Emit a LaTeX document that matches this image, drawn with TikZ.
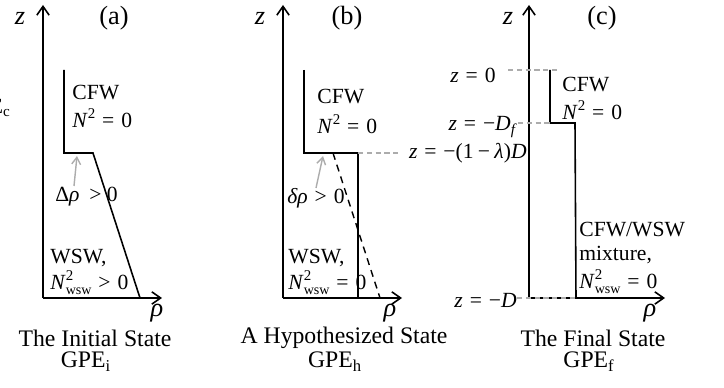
\documentclass[tikz,border=0pt]{standalone}
\usepackage{fontspec}
\setmainfont{Liberation Serif}
\usetikzlibrary{arrows.meta}
\newcommand{\mysp}{\hspace{0.32em}}
\newcommand{\Nsq}{\textit{N}\raisebox{0.85ex}{\fontsize{8.5}{9}\selectfont 2}}
\newcommand{\Nwsw}{\textit{N}\rlap{\raisebox{0.85ex}{\fontsize{8.5}{9}\selectfont 2}}\raisebox{-0.55ex}{\fontsize{8}{9}\selectfont wsw}}
\begin{document}
\begin{tikzpicture}[x=0.02cm,y=-0.02cm,
  axis/.style={line width=0.9pt,-{Straight Barb[length=5pt,width=7pt]}},
  prof/.style={line width=0.9pt},
  guide/.style={gray!65,line width=0.8pt,dash pattern=on 3pt off 2pt},
  hypo/.style={black,line width=0.8pt,dash pattern=on 4pt off 3pt},
  pointer/.style={gray!65,line width=0.8pt,-{Straight Barb[length=4pt,width=5pt]}},
  lbl/.style={inner sep=0pt,font=\fontsize{12.3}{14}\selectfont},
  axlbl/.style={inner sep=0pt,font=\fontsize{15}{18}\selectfont},
  captxt/.style={inner sep=0pt,font=\fontsize{13.5}{16}\selectfont}]
\useasboundingbox (0,0) rectangle (724,388);
\clip (0,0) rectangle (724,388);
% clipped fragment at left edge
\node[lbl,anchor=east] (frag) at (11,108) {GPE\textsubscript{c}};

% ---------------- panel (a)
\coordinate (aO) at (43,298); \coordinate (aZ) at (43,5); \coordinate (aR) at (162,298);
\draw[axis] (aO) -- (aZ);
\draw[axis] (aO) -- (aR);
\node[axlbl] (az) at (20,18) {\textit{z}};
\node[axlbl] (atag) at (114,18) {(a)};
\coordinate (a1) at (64,70); \coordinate (a2) at (64,153);
\coordinate (a3) at (93,153); \coordinate (a4) at (140,298);
\draw[prof] (a1) -- (a2) -- (a3) -- (a4);
\node[lbl,anchor=west] (acfw) at (72,93) {CFW};
\node[lbl,anchor=west] (an2) at (72,118) {\Nsq\mysp=\mysp0};
\node[lbl,anchor=west] (adr) at (55,197) {Δ\textit{ρ}\hspace{0.45em}>\hspace{0.25em}0};
\coordinate (ap1) at (74,186); \coordinate (ap2) at (77,156);
\draw[pointer] (ap1) -- (ap2);
\node[lbl,anchor=west] (awsw) at (50,258) {WSW,};
\node[lbl,anchor=west] (anw) at (50,283) {\Nwsw\mysp>\mysp0};
\node[axlbl] (arho) at (157,313) {\textit{ρ}};
\node[captxt] (acap) at (95,338) {The Initial State};
\node[captxt] (agpe) at (86,362) {GPE\textsubscript{i}};

% ---------------- panel (b)
\coordinate (bO) at (283,298); \coordinate (bZ) at (283,5); \coordinate (bR) at (402,298);
\draw[axis] (bO) -- (bZ);
\draw[axis] (bO) -- (bR);
\node[axlbl] (bz) at (260,18) {\textit{z}};
\node[axlbl] (btag) at (347,18) {(b)};
\coordinate (b1) at (304,70); \coordinate (b2) at (304,153);
\coordinate (b3) at (358,153); \coordinate (b4) at (358,298);
\draw[prof] (b1) -- (b2) -- (b3) -- (b4);
\coordinate (bd1) at (333,153); \coordinate (bd2) at (380,298);
\draw[hypo] (bd1) -- (bd2);
\node[lbl,anchor=west] (bcfw) at (317,97) {CFW};
\node[lbl,anchor=west] (bn2) at (317,124) {\Nsq\mysp=\mysp0};
\node[lbl,anchor=west] (bdr) at (287,198) {\textit{δρ}\mysp>\mysp0};
\coordinate (bp1) at (316,188); \coordinate (bp2) at (323,156);
\draw[pointer] (bp1) -- (bp2);
\node[lbl,anchor=west] (bwsw) at (288,258) {WSW,};
\node[lbl,anchor=west] (bnw) at (288,283) {\Nwsw\mysp=\mysp0};
\node[axlbl] (brho) at (390,313) {\textit{ρ}};
\node[captxt] (bcap) at (344,338) {A Hypothesized State};
\node[captxt] (bgpe) at (335,362) {GPE\textsubscript{h}};

% ---------------- panel (c)
\coordinate (cO) at (529,298); \coordinate (cZ) at (529,5); \coordinate (cR) at (665,298);
\draw[axis] (cO) -- (cZ);
\draw[axis] (cO) -- (cR);
\node[axlbl] (cz) at (508,18) {\textit{z}};
\node[axlbl] (ctag) at (602,18) {(c)};
\coordinate (c1) at (550,70); \coordinate (c2) at (550,123);
\coordinate (c3) at (575,123); \coordinate (c4) at (576,298);
\draw[prof] (c1) -- (c2) -- (c3) -- (c4);
% level labels
\node[lbl,anchor=east] (lz0) at (496,75) {\textit{z}\mysp=\mysp0};
\node[lbl,anchor=east] (lzdf) at (518,127) {\textit{z}\mysp=\mysp−\textit{D}\textsubscript{\textit{f}}};
\node[lbl,anchor=east] (lzl) at (527,153) {\textit{z}\mysp=\mysp−(1\hspace{0.2em}−\hspace{0.2em}\textit{λ})\textit{D}};
\node[lbl,anchor=east] (lzd) at (517,300) {\textit{z}\mysp=\mysp−\textit{D}};
\coordinate (g0a) at (508,70); \coordinate (g0b) at (560,70);
\draw[guide] (g0a) -- (g0b);
\coordinate (gfa) at (518,123);
\draw[guide] (gfa) -- (c2);
\draw[guide] (b3) -- ([xshift=-4pt]lzl.west |- b3);
\coordinate (gda) at (517,298);
\draw[guide] (gda) -- (c4 |- gda);
\node[lbl,anchor=west] (ccfw) at (562,85) {CFW};
\node[lbl,anchor=west] (cn2) at (562,110) {\Nsq\mysp=\mysp0};
\node[lbl,anchor=west] (cmix1) at (579,230) {CFW/WSW};
\node[lbl,anchor=west] (cmix2) at (579,255) {mixture,};
\node[lbl,anchor=west] (cnw) at (579,282) {\Nwsw\mysp=\mysp0};
\node[axlbl] (crho) at (650,313) {\textit{ρ}};
\node[captxt] (ccap) at (593,338) {The Final State};
\node[captxt] (cgpe) at (589,362) {GPE\textsubscript{f}};
\end{tikzpicture}
\end{document}
